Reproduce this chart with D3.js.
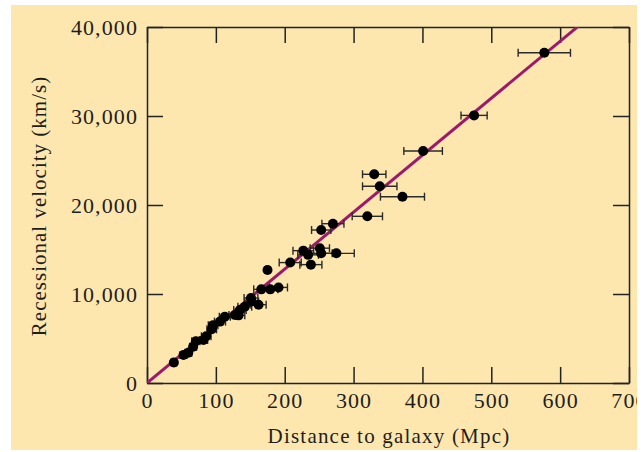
<!DOCTYPE html>
<html>
<head>
<meta charset="utf-8">
<title>Hubble diagram</title>
<script src="https://d3js.org/d3.v7.min.js"></script>
<style>
  body { margin: 0; background: #fff; }
  text { font-family: "Liberation Serif", "Times New Roman", serif; fill: #1e1e1e; }
</style>
</head>
<body>
<script>

// galaxy distances (Mpc), recessional velocities (km/s), distance errors (Mpc)
var distance = [39, 53, 60, 67, 71, 82, 86, 94, 96, 106, 113, 128, 133, 135, 142, 151, 152, 162,
                166, 179, 191, 175, 208, 238, 227, 234, 251, 253, 275, 253, 270, 320, 330, 338,
                371, 401, 475, 577];
var velocity = [2300, 3150, 3400, 4080, 4700, 4830, 5250, 6030, 6500, 6900, 7450, 7650, 7600, 8200,
                8570, 9550, 9150, 8800, 10520, 10520, 10740, 12700, 13530, 13300, 14870, 14400,
                15150, 14570, 14570, 17190, 17900, 18730, 23450, 22100, 20930, 26070, 30070, 37100];
var distErr  = [4, 5, 5, 5, 6, 6, 7, 7, 7, 8, 8, 9, 9, 9, 10, 10, 10, 11,
                11, 11, 13, 4, 16, 16, 15, 15, 14, 16, 26, 14, 16, 22, 17, 25,
                32, 28, 19, 38];
var xTicks = [0, 100, 200, 300, 400, 500, 600, 700];
var yTicks = [0, 10000, 20000, 30000, 40000];
var hubble = 64; // slope of the fitted line, km/s per Mpc

var W = 644, H = 452;
var pLeft = 147, pTop = 27, pRight = 629, pBottom = 383;

var svg = d3.select("body").append("svg")
  .attr("width", W)
  .attr("height", H);

svg.append("clipPath").attr("id", "panel")
  .append("rect").attr("x", 11).attr("y", 5).attr("width", 626).attr("height", 445);
svg.append("clipPath").attr("id", "plot")
  .append("rect").attr("x", pLeft).attr("y", pTop).attr("width", pRight - pLeft).attr("height", pBottom - pTop);

var g = svg.append("g").attr("clip-path", "url(#panel)");

g.append("rect")
  .attr("x", 11).attr("y", 5)
  .attr("width", 626).attr("height", 445)
  .attr("fill", "#fde7ae");

var x = d3.scaleLinear().domain([0, 700]).range([pLeft, pRight]);
var y = d3.scaleLinear().domain([0, 40000]).range([pBottom, pTop]);

var fmt = d3.format(",");

function styleAxis(sel) {
  sel.selectAll(".domain").attr("stroke", "#222").attr("stroke-width", 1.5);
  sel.selectAll(".tick line").attr("stroke", "#222").attr("stroke-width", 1.5);
  sel.selectAll("text")
    .style("font-family", '"Liberation Serif", serif')
    .style("font-size", "22px")
    .style("letter-spacing", "1.1px")
    .attr("fill", "#1e1e1e");
}

g.append("g")
  .attr("transform", "translate(0," + pBottom + ")")
  .call(d3.axisBottom(x).tickValues(xTicks).tickFormat(d3.format("d"))
    .tickSizeInner(-16).tickSizeOuter(0).tickPadding(9))
  .call(styleAxis);

g.append("g")
  .attr("transform", "translate(0," + pTop + ")")
  .call(d3.axisTop(x).tickValues(xTicks).tickFormat("")
    .tickSizeInner(-16).tickSizeOuter(0))
  .call(styleAxis);

g.append("g")
  .attr("transform", "translate(" + pLeft + ",0)")
  .call(d3.axisLeft(y).tickValues(yTicks).tickFormat(fmt)
    .tickSizeInner(-16).tickSizeOuter(0).tickPadding(9))
  .call(styleAxis);

g.append("g")
  .attr("transform", "translate(" + pRight + ",0)")
  .call(d3.axisRight(y).tickValues(yTicks).tickFormat("")
    .tickSizeInner(-16).tickSizeOuter(0))
  .call(styleAxis);

// fitted Hubble line
g.append("line")
  .attr("clip-path", "url(#plot)")
  .attr("x1", x(0)).attr("y1", y(0))
  .attr("x2", x(700)).attr("y2", y(700 * hubble))
  .attr("stroke", "#9b1a6c")
  .attr("stroke-width", 3);

var pts = distance.map(function(d, i) {
  return { d: d, v: velocity[i], e: distErr[i] };
});

var bars = g.append("g").attr("stroke", "#2a2a2a").attr("stroke-width", 1.4);

bars.selectAll(".bar")
  .data(pts)
  .enter().append("line")
    .attr("x1", function(p) { return x(p.d - p.e); })
    .attr("x2", function(p) { return x(p.d + p.e); })
    .attr("y1", function(p) { return y(p.v); })
    .attr("y2", function(p) { return y(p.v); });

bars.selectAll(".capl")
  .data(pts)
  .enter().append("line")
    .attr("x1", function(p) { return x(p.d - p.e); })
    .attr("x2", function(p) { return x(p.d - p.e); })
    .attr("y1", function(p) { return y(p.v) - 4; })
    .attr("y2", function(p) { return y(p.v) + 4; });

bars.selectAll(".capr")
  .data(pts)
  .enter().append("line")
    .attr("x1", function(p) { return x(p.d + p.e); })
    .attr("x2", function(p) { return x(p.d + p.e); })
    .attr("y1", function(p) { return y(p.v) - 4; })
    .attr("y2", function(p) { return y(p.v) + 4; });

g.selectAll(".dot")
  .data(pts)
  .enter().append("circle")
    .attr("cx", function(p) { return x(p.d); })
    .attr("cy", function(p) { return y(p.v); })
    .attr("r", 5)
    .attr("fill", "#000");

g.append("text")
  .attr("x", (pLeft + pRight) / 2 + 1)
  .attr("y", 443)
  .attr("text-anchor", "middle")
  .style("font-size", "21px")
  .style("letter-spacing", "1.2px")
  .text("Distance to galaxy (Mpc)");

g.append("text")
  .attr("transform", "translate(46,206) rotate(-90)")
  .attr("text-anchor", "middle")
  .style("font-size", "21px")
  .style("letter-spacing", "1px")
  .text("Recessional velocity (km/s)");

</script>
</body>
</html>
